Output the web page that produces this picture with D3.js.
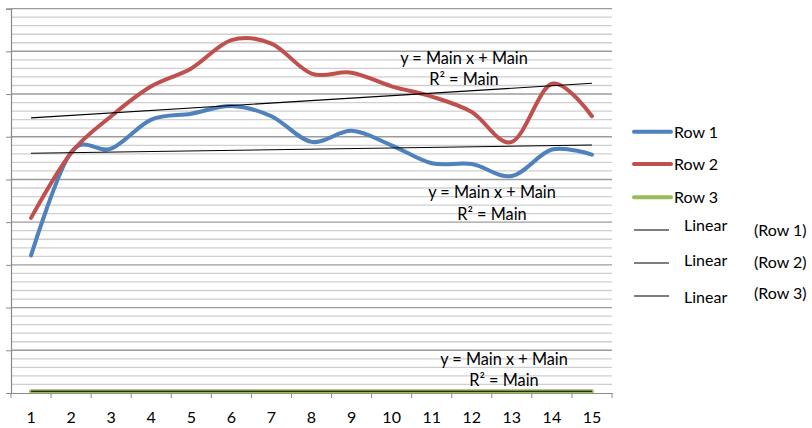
<!DOCTYPE html>
<html>
<head>
<meta charset="utf-8">
<script src="https://cdn.jsdelivr.net/npm/d3@7"></script>
<style>
  body { margin: 0; background: #fff; }
  text { font-family: Lato, "Open Sans", sans-serif; fill: #000; }
</style>
</head>
<body>
<div class="chartContainer"></div>
<script>
// Category labels and series values
const categories = ["1","2","3","4","5","6","7","8","9","10","11","12","13","14","15"];
const row1 = [16.1, 28.2, 28.6, 32.0, 32.7, 33.6, 32.4, 29.4, 30.7, 29.0, 26.9, 26.8, 25.4, 28.5, 27.9];
const row2 = [20.5, 28.1, 32.4, 35.9, 38.0, 41.3, 40.9, 37.4, 37.5, 35.9, 34.7, 32.9, 29.4, 36.2, 32.4];
const row3 = [0.2, 0.2, 0.2, 0.2, 0.2, 0.2, 0.2, 0.2, 0.2, 0.2, 0.2, 0.2, 0.2, 0.2, 0.2];
const seriesNames = ["Row 1", "Row 2", "Row 3"];
const seriesColors = ["#4F81BD", "#C0504D", "#9BBB59"];

// size and plot box
const w = 812;
const h = 428;
const pLeft = 11, pRight = 612, pTop = 8.6, pBottom = 393;

const svg = d3.select(".chartContainer").append("svg")
  .attr("width", w)
  .attr("height", h);

const xScale = d3.scaleBand()
  .domain(categories)
  .range([pLeft, pRight]);

const yScale = d3.scaleLinear()
  .domain([0, 45])
  .range([pBottom, pTop]);

const xc = (i) => xScale(categories[i]) + xScale.bandwidth() / 2;

// gridlines: minor every 1, major every 5
const gridVals = d3.range(1, 46);
svg.append("g")
  .selectAll("line")
  .data(gridVals)
  .enter()
  .append("line")
  .attr("x1", pLeft)
  .attr("x2", pRight)
  .attr("y1", d => yScale(d))
  .attr("y2", d => yScale(d))
  .attr("stroke", d => d % 5 === 0 ? "#9c9c9c" : "#cfcfcf")
  .attr("stroke-width", d => d % 5 === 0 ? 1.4 : 1.3);

// y axis, no labels
const yAxis = d3.axisLeft(yScale)
  .tickValues(d3.range(0, 46, 5))
  .tickSize(5)
  .tickFormat("");
svg.append("g")
  .attr("transform", "translate(" + pLeft + ",0)")
  .call(yAxis)
  .call(g => g.select(".domain").attr("stroke", "#8a8a8a").attr("stroke-width", 1.2))
  .call(g => g.selectAll(".tick line").attr("stroke", "#8a8a8a"));

// x axis
const xAxis = d3.axisBottom(xScale).tickSize(0).tickPadding(0);
const gx = svg.append("g")
  .attr("transform", "translate(0," + pBottom + ")")
  .call(xAxis);
gx.select(".domain").attr("stroke", "#8a8a8a").attr("stroke-width", 1.2);
gx.selectAll(".tick text")
  .attr("y", 30)
  .attr("dy", 0)
  .style("font-family", "Lato, sans-serif")
  .style("font-size", "16px");
// category boundary ticks
svg.append("g")
  .selectAll("line")
  .data(categories.concat(["end"]))
  .enter()
  .append("line")
  .attr("x1", (d, i) => pLeft + i * xScale.bandwidth())
  .attr("x2", (d, i) => pLeft + i * xScale.bandwidth())
  .attr("y1", pBottom)
  .attr("y2", pBottom + 5)
  .attr("stroke", "#8a8a8a");

// series lines
const allRows = [row1, row2, row3];
const line = d3.line()
  .x((d, i) => xc(i))
  .y(d => yScale(d))
  .curve(d3.curveCatmullRom.alpha(0));

svg.append("g")
  .selectAll("path")
  .data(allRows)
  .enter()
  .append("path")
  .attr("d", d => line(d))
  .attr("fill", "none")
  .attr("stroke", (d, i) => seriesColors[i])
  .attr("stroke-width", 4)
  .attr("stroke-linecap", "round");

// linear trendlines from least squares
function fit(vals) {
  const xs = vals.map((v, i) => i + 1);
  const mx = d3.mean(xs), my = d3.mean(vals);
  let sxy = 0, sxx = 0;
  vals.forEach((v, i) => { sxy += (xs[i] - mx) * (v - my); sxx += (xs[i] - mx) ** 2; });
  const slope = sxy / sxx;
  return { slope: slope, icpt: my - slope * mx };
}
allRows.forEach((vals) => {
  const f = fit(vals);
  const n = vals.length;
  svg.append("line")
    .attr("x1", xc(0))
    .attr("x2", xc(n - 1))
    .attr("y1", yScale(f.icpt + f.slope * 1))
    .attr("y2", yScale(f.icpt + f.slope * n))
    .attr("stroke", "#000")
    .attr("stroke-width", 1.1);
});

// trendline equation labels
const eqLabels = [
  { x: 464, y1: 64, y2: 85 },
  { x: 492, y1: 198, y2: 220 },
  { x: 504, y1: 365, y2: 386 }
];
eqLabels.forEach((l) => {
  svg.append("text")
    .attr("x", l.x)
    .attr("y", l.y1)
    .attr("text-anchor", "middle")
    .style("font-size", "16.3px")
    .text("y = Main x + Main");
  svg.append("text")
    .attr("x", l.x)
    .attr("y", l.y2)
    .attr("text-anchor", "middle")
    .style("font-size", "16.3px")
    .text("R² = Main");
});

// legend
const legendY = [131.7, 164, 197.3];
seriesNames.forEach((name, i) => {
  svg.append("line")
    .attr("x1", 634).attr("x2", 671)
    .attr("y1", legendY[i]).attr("y2", legendY[i])
    .attr("stroke", seriesColors[i])
    .attr("stroke-width", 4)
    .attr("stroke-linecap", "round");
  svg.append("text")
    .attr("x", 674)
    .attr("y", legendY[i] + 5.8)
    .style("font-size", "16px")
    .text(name);
});
const trendY = [230, 263, 296];
const trendTextDy = [-5, -3, 1];
const trendRowDy = [0, -1, -3];
seriesNames.forEach((name, i) => {
  svg.append("line")
    .attr("x1", 634).attr("x2", 669)
    .attr("y1", trendY[i]).attr("y2", trendY[i])
    .attr("stroke", "#000")
    .attr("stroke-width", 1.1);
  svg.append("text")
    .attr("x", 684)
    .attr("y", trendY[i] + trendTextDy[i] + 5.8)
    .style("font-size", "16px")
    .text("Linear");
  svg.append("text")
    .attr("x", 754)
    .attr("y", trendY[i] + trendRowDy[i] + 5.8)
    .style("font-size", "16px")
    .text("(" + name + ")");
});
</script>
</body>
</html>
